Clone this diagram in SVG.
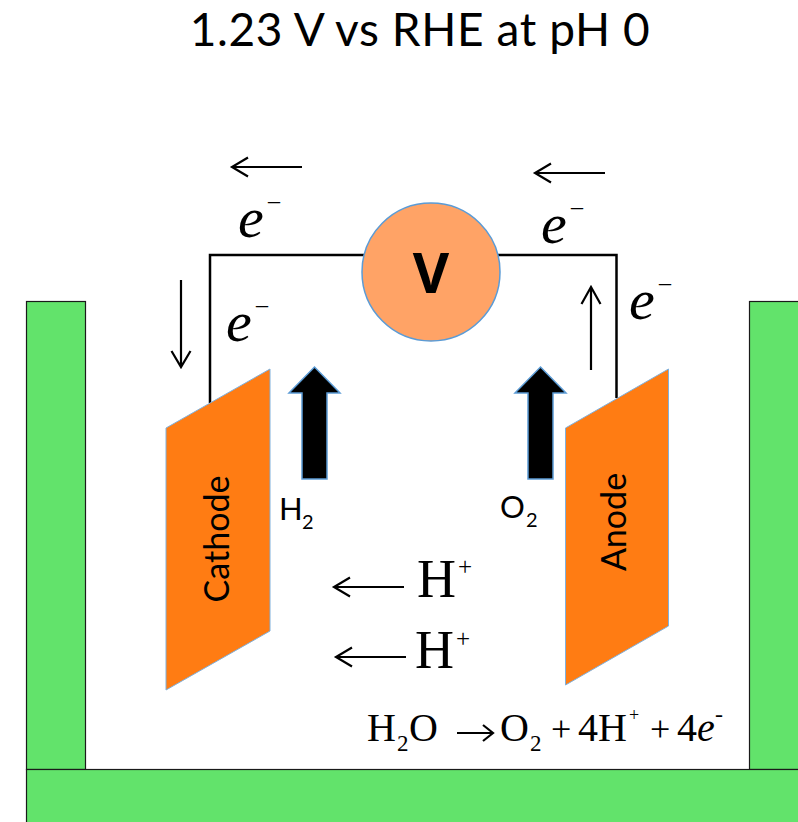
<svg xmlns="http://www.w3.org/2000/svg" width="798" height="822" viewBox="0 0 798 822">
<style>
.tank{fill:#62e36b;stroke:#1a1a1a;stroke-width:1.2}
.el{fill:#ff7c13;stroke:#7fb0dc;stroke-width:1}
.up{fill:#000;stroke:#5b9bd5;stroke-width:1.5}
.wire{fill:none;stroke:#000;stroke-width:2.500}
.arr{fill:none;stroke:#000;stroke-width:2.200}
.s{font-family:"Lato","Open Sans",sans-serif;fill:#000}
.t{font-family:"Liberation Serif",serif;fill:#000}
.i{font-style:italic}
</style>
<rect width="798" height="822" fill="#fff"/>
<g id="tank">
<rect class="tank" x="26.500" y="301.500" width="59" height="468"/>
<rect class="tank" x="749.500" y="301.500" width="60" height="468"/>
<rect class="tank" x="26.500" y="769.500" width="790" height="70"/>
</g>
<g id="connectors">
<path class="wire" d="M210 403V255H364M498 255H616.500V398"/>
<path class="arr" d="M302 167H232M248 157.500L232 167L248 176.500"/>
<path class="arr" d="M605 173H535M551 163.500L535 173L551 182.500"/>
<path class="arr" d="M181 280V367M171.500 351L181 367L190.500 351"/>
<path class="arr" d="M591 370V287M581.500 304L591 287L600.500 304"/>
<path class="arr" d="M404 587H334M350 577.500L334 587L350 596.500"/>
<path class="arr" d="M406 657H336M352 647.500L336 657L352 666.500"/>
<path class="arr" d="M457 733H493M483 725L493 733L483 741"/>
</g>
<g id="cathode">
<path class="el" d="M166 428L270 369V631L166 690Z"/>
<text class="s" transform="translate(229 539) rotate(-90)" text-anchor="middle" font-size="34">Cathode</text>
</g>
<g id="anode">
<path class="el" d="M565.500 428L668.500 369V626L565.500 685Z"/>
<text class="s" transform="translate(626 522) rotate(-90)" text-anchor="middle" font-size="34">Anode</text>
</g>
<g id="voltmeter">
<circle cx="431" cy="272" r="69" fill="#ffa366" stroke="#5b9bd5" stroke-width="1.500"/>
<text x="431" y="293" text-anchor="middle" font-size="56" font-weight="700" font-family="Open Sans, sans-serif">V</text>
</g>
<g id="h2-arrow">
<path class="up" d="M302 479V393H289L314.500 367L340 393H327V479Z"/>
<text class="s" x="279" y="520" font-size="31">H</text><text class="s" x="302" y="529" font-size="20">2</text>
</g>
<g id="o2-arrow">
<path class="up" d="M528 479V393H515L540.500 367L566 393H553V479Z"/>
<text class="s" x="500" y="518" font-size="31">O</text><text class="s" x="526" y="527" font-size="20">2</text>
</g>
<g id="labels">
<text class="s" x="420" y="46" text-anchor="middle" font-size="46" letter-spacing="0.600">1.23 V vs RHE at pH 0</text>
<text class="t i" x="238" y="237" font-size="58">e</text><text class="t" x="268" y="208" font-size="24">–</text>
<text class="t i" x="226" y="341" font-size="58">e</text><text class="t" x="256" y="312" font-size="24">–</text>
<text class="t i" x="541" y="243" font-size="58">e</text><text class="t" x="571" y="214" font-size="24">–</text>
<text class="t i" x="629" y="319" font-size="58">e</text><text class="t" x="659" y="290" font-size="24">–</text>
<text class="t" x="417" y="597" font-size="54">H</text><text class="t" x="458" y="575" font-size="25">+</text>
<text class="t" x="415" y="668" font-size="54">H</text><text class="t" x="456" y="647" font-size="25">+</text>
<text class="t" x="367" y="741" font-size="40">H</text><text class="t" x="397" y="751" font-size="23">2</text><text class="t" x="409" y="741" font-size="40">O</text>
<text class="t" x="500" y="741" font-size="40">O</text><text class="t" x="530" y="751" font-size="23">2</text>
<text class="t" x="551" y="741" font-size="36">+</text>
<text class="t" x="578" y="741" font-size="40">4H</text><text class="t" x="629" y="721" font-size="18">+</text>
<text class="t" x="650" y="741" font-size="36">+</text>
<text class="t" x="677" y="741" font-size="40">4</text><text class="t i" x="697" y="741" font-size="40">e</text><text class="t" x="715" y="722" font-size="24">-</text>
</g>
</svg>
